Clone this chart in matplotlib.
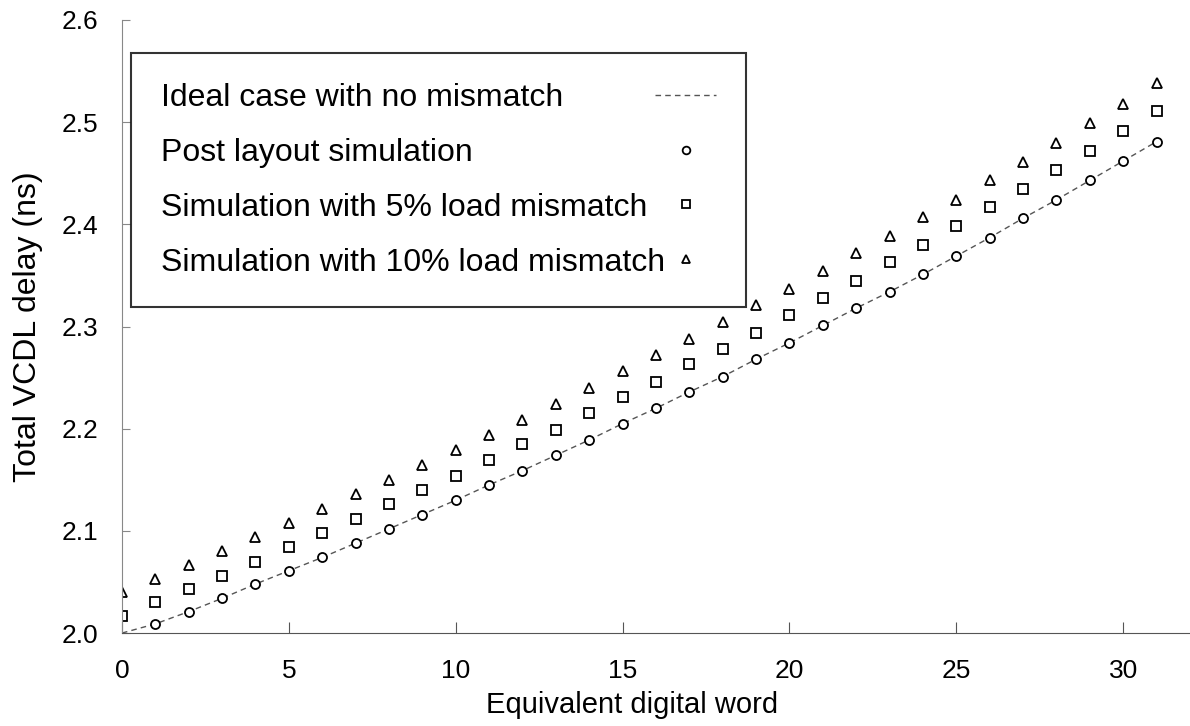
import matplotlib.pyplot as plt

plt.rcParams['font.family'] = ['Liberation Sans', 'DejaVu Sans']

# equivalent digital word
words = list(range(32))
# post layout simulation (word 1..31)
post_x = list(range(1, 32))
post_layout = [2.009, 2.021, 2.034, 2.048, 2.061, 2.074, 2.088, 2.102, 2.116, 2.130,
               2.145, 2.159, 2.174, 2.189, 2.205, 2.220, 2.236, 2.251, 2.268, 2.284,
               2.301, 2.318, 2.334, 2.351, 2.369, 2.387, 2.406, 2.424, 2.443, 2.462, 2.481]
ideal = [2.000] + post_layout
load5 = [2.017, 2.030, 2.043, 2.056, 2.070, 2.084, 2.098, 2.112, 2.126, 2.140,
         2.154, 2.169, 2.185, 2.199, 2.215, 2.231, 2.246, 2.263, 2.278, 2.294,
         2.311, 2.328, 2.345, 2.363, 2.380, 2.398, 2.417, 2.435, 2.453, 2.472, 2.491, 2.511]
load10 = [2.040, 2.053, 2.067, 2.080, 2.094, 2.108, 2.121, 2.136, 2.150, 2.164,
          2.179, 2.194, 2.209, 2.224, 2.240, 2.256, 2.272, 2.288, 2.304, 2.321,
          2.337, 2.354, 2.372, 2.389, 2.407, 2.424, 2.443, 2.461, 2.480, 2.499, 2.518, 2.538]

xticks = [0, 5, 10, 15, 20, 25, 30]
yticks = [2.0, 2.1, 2.2, 2.3, 2.4, 2.5, 2.6]

fig = plt.figure(figsize=(11.9, 7.26), dpi=100)
ax = fig.add_axes([0.1025, 0.128, 0.8975, 0.8445])

ax.plot(words, ideal, ls=(0, (4, 3)), color='#555555', lw=1.0,
        label='Ideal case with no mismatch')
ax.plot(post_x, post_layout, ls='none', marker='o', ms=6.5, mfc='white',
        mec='black', mew=1.3, label='Post layout simulation')
ax.plot(words, load5, ls='none', marker='s', ms=6.5, mfc='white',
        mec='black', mew=1.3, label='Simulation with 5% load mismatch')
ax.plot(words, load10, ls='none', marker='^', ms=7, mfc='white',
        mec='black', mew=1.3, label='Simulation with 10% load mismatch')

ax.set_xlim(0, 32)
ax.set_ylim(2.0, 2.6)
ax.set_xticks(xticks)
ax.set_yticks(yticks)
ax.set_yticklabels(['%.1f' % v for v in yticks])

for s in ['top', 'right']:
    ax.spines[s].set_visible(False)
ax.spines['left'].set_color('#888888')
ax.spines['bottom'].set_color('#555555')
ax.tick_params(axis='y', direction='in', length=6, color='#888888',
               labelsize=19, pad=17)
ax.tick_params(axis='x', direction='in', length=8, color='#555555',
               labelsize=19, pad=19)

ax.set_xlabel('Equivalent digital word', fontsize=21)
ax.xaxis.set_label_coords(0.4775, -0.094)
ax.set_ylabel('Total VCDL delay (ns)', fontsize=23)
ax.yaxis.set_label_coords(-0.074, 0.5)

leg = ax.legend(loc='upper left', bbox_to_anchor=(0.0084, 0.946), markerfirst=False,
                fontsize=23, frameon=True, fancybox=False, edgecolor='black',
                handlelength=1.9, handletextpad=-0.3, labelspacing=0.78,
                borderpad=0.93, borderaxespad=0, markerscale=0.85)
leg.get_frame().set_linewidth(1.5)

# left-align labels while keeping the markers in one column on the right
fig.canvas.draw()
renderer = fig.canvas.get_renderer()
widths = [t.get_window_extent(renderer).width for t in leg.get_texts()]
rows = leg._legend_handle_box.get_children()[0].get_children()
for row, w in zip(rows, widths):
    row.sep += (max(widths) - w) * 72 / fig.dpi

fig.savefig('out.png', dpi=100)
